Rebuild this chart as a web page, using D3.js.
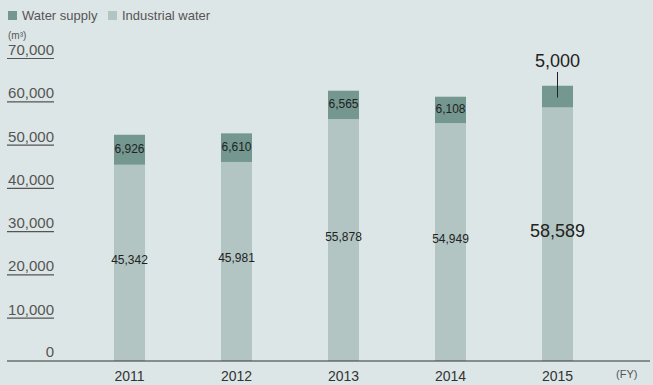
<!DOCTYPE html>
<html>
<head>
<meta charset="utf-8">
<script src="https://cdn.jsdelivr.net/npm/d3@7"></script>
<style>
  body { margin: 0; background: #dde6e6; }
  svg { display: block; font-family: "Liberation Sans", Arial, sans-serif; }
</style>
</head>
<body>
<svg id="chart" width="653" height="385"></svg>
<script>
const years = ["2011", "2012", "2013", "2014", "2015"];
const industrialWater = [45342, 45981, 55878, 54949, 58589];
const waterSupply = [6926, 6610, 6565, 6108, 5000];
const yTicks = [0, 10000, 20000, 30000, 40000, 50000, 60000, 70000];
const seriesNames = ["Water supply", "Industrial water"];

const colorDark = "#74978f";
const colorLight = "#b2c5c2";
const barWidth = 31;

const svg = d3.select("#chart");

const x = d3.scalePoint().domain(years).range([129.5, 557.5]);
const y = d3.scaleLinear().domain([0, 70000]).range([361, 58]);

// y axis: underlined tick labels on the left
const yAxis = svg.append("g")
  .attr("transform", "translate(7,0)")
  .call(d3.axisRight(y).tickValues(yTicks.filter(d => d > 0)).tickSize(47).tickFormat(d3.format(",")));
yAxis.select(".domain").remove();
yAxis.selectAll(".tick line").attr("stroke", "#555").attr("stroke-width", 1.2);
yAxis.selectAll(".tick text")
  .attr("x", 47)
  .attr("dy", "-3.5")
  .attr("text-anchor", "end")
  .attr("fill", "#555")
  .style("font-size", "15px");

// zero label + baseline
svg.append("text")
  .attr("x", 54).attr("y", y(0) - 4)
  .attr("text-anchor", "end")
  .attr("fill", "#555")
  .style("font-size", "15px")
  .text("0");

// bars
const bars = svg.append("g");
years.forEach((yr, i) => {
  const ind = industrialWater[i];
  const ws = waterSupply[i];
  bars.append("rect")
    .attr("x", x(yr) - barWidth / 2)
    .attr("width", barWidth)
    .attr("y", y(ind))
    .attr("height", y(0) - y(ind))
    .attr("fill", colorLight);
  bars.append("rect")
    .attr("x", x(yr) - barWidth / 2)
    .attr("width", barWidth)
    .attr("y", y(ind + ws))
    .attr("height", y(ind) - y(ind + ws))
    .attr("fill", colorDark);
});

svg.append("line")
  .attr("x1", 7).attr("x2", 650)
  .attr("y1", y(0)).attr("y2", y(0))
  .attr("stroke", "#333").attr("stroke-width", 1.2);

// value labels
const last = years.length - 1;
years.forEach((yr, i) => {
  const ind = industrialWater[i];
  const ws = waterSupply[i];
  const big = i === last;
  svg.append("text")
    .attr("x", x(yr))
    .attr("y", big ? 231 : (y(0) + y(ind)) / 2 - 3)
    .attr("text-anchor", "middle")
    .attr("dominant-baseline", "central")
    .attr("fill", "#222")
    .style("font-size", big ? "18px" : "12px")
    .text(d3.format(",")(ind));
  if (big) {
    svg.append("line")
      .attr("x1", x(yr)).attr("x2", x(yr))
      .attr("y1", 72).attr("y2", (y(ind) + y(ind + ws)) / 2 + 1)
      .attr("stroke", "#222").attr("stroke-width", 1);
    svg.append("text")
      .attr("x", x(yr))
      .attr("y", 61)
      .attr("text-anchor", "middle")
      .attr("dominant-baseline", "central")
      .attr("fill", "#222")
      .style("font-size", "18px")
      .text(d3.format(",")(ws));
  } else {
    svg.append("text")
      .attr("x", x(yr))
      .attr("y", (y(ind) + y(ind + ws)) / 2 - 1)
      .attr("text-anchor", "middle")
      .attr("dominant-baseline", "central")
      .attr("fill", "#222")
      .style("font-size", "12px")
      .text(d3.format(",")(ws));
  }
});

// x axis labels
svg.append("g").selectAll("text")
  .data(years)
  .enter()
  .append("text")
  .attr("x", d => x(d))
  .attr("y", 381)
  .attr("text-anchor", "middle")
  .attr("fill", "#333")
  .style("font-size", "14px")
  .text(d => d);

svg.append("text")
  .attr("x", 616).attr("y", 378)
  .attr("fill", "#555")
  .style("font-size", "11px")
  .text("(FY)");

// unit
svg.append("text")
  .attr("x", 8).attr("y", 39)
  .attr("fill", "#555")
  .style("font-size", "10px")
  .text("(m³)");

// legend
const legendX = [8, 108];
const legendColors = [colorDark, colorLight];
seriesNames.forEach((name, i) => {
  svg.append("rect")
    .attr("x", legendX[i]).attr("y", 11)
    .attr("width", 9).attr("height", 9)
    .attr("fill", legendColors[i]);
  svg.append("text")
    .attr("x", legendX[i] + 14).attr("y", 20)
    .attr("fill", "#555")
    .style("font-size", "13px")
    .text(name);
});
</script>
</body>
</html>
